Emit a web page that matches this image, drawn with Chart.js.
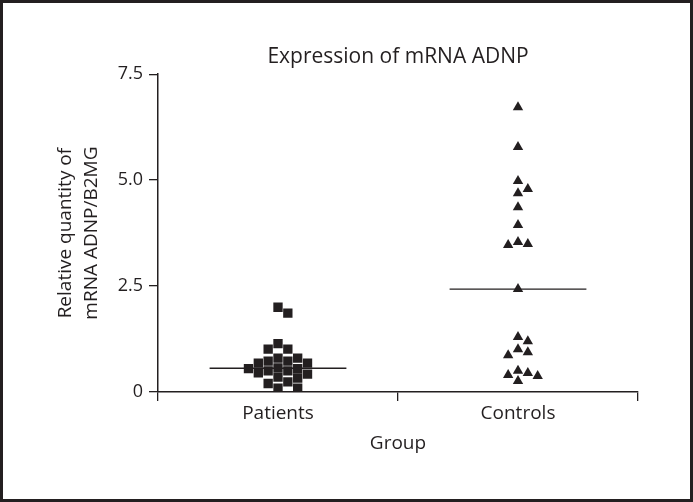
<!DOCTYPE html>
<html>
<head>
<meta charset="utf-8">
<title>Expression of mRNA ADNP</title>
<script src="https://cdn.jsdelivr.net/npm/chart.js@4/dist/chart.umd.min.js"></script>
<style>
    body { margin: 0; background: #fff; }
    canvas { display: block; }
</style>
</head>
<body>
<canvas id="chart" width="693" height="502"></canvas>
<script>

// Groups on the x axis
const groups = ["Patients", "Controls"];

// Relative quantity ADNP/B2MG
const patients = [2.00, 1.86, 1.14, 1.01, 1.01, 0.80, 0.80, 0.73, 0.73, 0.68, 0.68, 0.57,
    0.55, 0.55, 0.50, 0.50, 0.45, 0.42, 0.35, 0.33, 0.24, 0.20, 0.09, 0.09];
const controls = [6.72, 5.78, 4.98, 4.79, 4.69, 4.36, 3.94, 3.54, 3.49, 3.47, 2.43,
    1.30, 1.20, 1.01, 0.94, 0.87, 0.50, 0.45, 0.40, 0.38, 0.26];

// Y axis ticks
const yTicks = [0, 2.5, 5.0, 7.5];

const ink = "#231f20";
const fontFamily = "'Open Sans', 'Noto Sans', sans-serif";

// Median of a group
function median(values) {
    const s = values.slice().sort((a, b) => a - b);
    const m = Math.floor(s.length / 2);
    return s.length % 2 ? s[m] : (s[m - 1] + s[m]) / 2;
}

// Spread points sideways when they would overlap (like a column scatter plot)
function swarm(values, center) {
    const step = 0.041;     // one symbol width in group units
    const gap = 0.21;       // one symbol height in y units
    const placed = [];
    const order = values.slice().sort((a, b) => b - a);
    order.forEach((v) => {
        for (let k = 0; k < 20; k++) {
            const slot = k === 0 ? 0 : (k % 2 ? (k + 1) / 2 : -k / 2);
            const hit = placed.some((p) => p.slot === slot && Math.abs(p.y - v) < gap);
            if (!hit) {
                placed.push({ slot: slot, y: v });
                break;
            }
        }
    });
    return placed.map((p) => ({ x: center + p.slot * step, y: p.y }));
}

// Median line across a group
function medianLine(values, center) {
    const m = median(values);
    return [{ x: center - 0.285, y: m }, { x: center + 0.285, y: m }];
}

// Frame round the whole figure
const framePlugin = {
    id: "frame",
    afterDraw(chart) {
        const ctx = chart.ctx;
        ctx.save();
        ctx.strokeStyle = ink;
        ctx.lineWidth = 3;
        ctx.strokeRect(1.5, 1.5, chart.width - 3, chart.height - 3);
        ctx.restore();
    },
};

const ctx = document.getElementById("chart").getContext("2d");

new Chart(ctx, {
    type: "scatter",
    data: {
        datasets: [
            {
                label: "Patients",
                data: swarm(patients, 0),
                xAxisID: "xv",
                pointStyle: "rect",
                pointRadius: 6.6,
                pointBorderWidth: 0,
                backgroundColor: ink,
                borderColor: ink,
            },
            {
                label: "Controls",
                data: swarm(controls, 1),
                xAxisID: "xv",
                pointStyle: "triangle",
                pointRadius: 6,
                pointBorderWidth: 0,
                backgroundColor: ink,
                borderColor: ink,
            },
            {
                type: "line",
                label: "Patients median",
                data: medianLine(patients, 0),
                xAxisID: "xv",
                borderColor: ink,
                borderWidth: 1.3,
                pointRadius: 0,
                fill: false,
            },
            {
                type: "line",
                label: "Controls median",
                data: medianLine(controls, 1),
                xAxisID: "xv",
                borderColor: ink,
                borderWidth: 1.3,
                pointRadius: 0,
                fill: false,
            },
        ],
    },
    options: {
        responsive: false,
        animation: false,
        events: [],
        layout: {
            padding: { left: 0, right: 55, top: 0, bottom: 0 },
        },
        plugins: {
            legend: { display: false },
            tooltip: { enabled: false },
            title: {
                display: true,
                fullSize: false,
                text: "Expression of mRNA ADNP",
                color: ink,
                font: { family: fontFamily, size: 21, weight: "normal", lineHeight: 1.2 },
                padding: { top: 44, bottom: 5 },
            },
        },
        scales: {
            x: {
                type: "category",
                labels: groups,
                offset: true,
                position: "bottom",
                afterFit: (scale) => { scale.height = 110; },
                border: { color: ink, width: 1.5 },
                grid: {
                    offset: true,
                    drawOnChartArea: false,
                    drawTicks: true,
                    tickLength: 9,
                    color: ink,
                    lineWidth: 1.3,
                },
                ticks: {
                    color: ink,
                    padding: 1,
                    font: { family: fontFamily, size: 19, lineHeight: 1.2 },
                },
                title: {
                    display: true,
                    text: "Group",
                    color: ink,
                    font: { family: fontFamily, size: 19, lineHeight: 1.2 },
                    padding: { top: 0, bottom: 47 },
                },
            },
            xv: {
                type: "linear",
                display: false,
                min: -0.5,
                max: 1.5,
            },
            y: {
                min: 0,
                max: 7.5,
                afterFit: (scale) => { scale.width = 158; },
                afterBuildTicks: (scale) => {
                    scale.ticks = yTicks.map((v) => ({ value: v }));
                },
                border: { color: ink, width: 1.5 },
                grid: {
                    drawOnChartArea: false,
                    drawTicks: true,
                    tickLength: 9,
                    color: ink,
                    lineWidth: 1.3,
                },
                ticks: {
                    color: ink,
                    padding: 6,
                    font: { family: fontFamily, size: 18 },
                    callback: (v) => (v === 0 ? "0" : v.toFixed(1)),
                },
                title: {
                    display: true,
                    text: ["Relative quantity of", "mRNA ADNP/B2MG"],
                    color: ink,
                    font: { family: fontFamily, size: 19, lineHeight: 1.37 },
                    padding: { top: 53, bottom: 0 },
                },
            },
        },
    },
    plugins: [framePlugin],
});
</script>
</body>
</html>
